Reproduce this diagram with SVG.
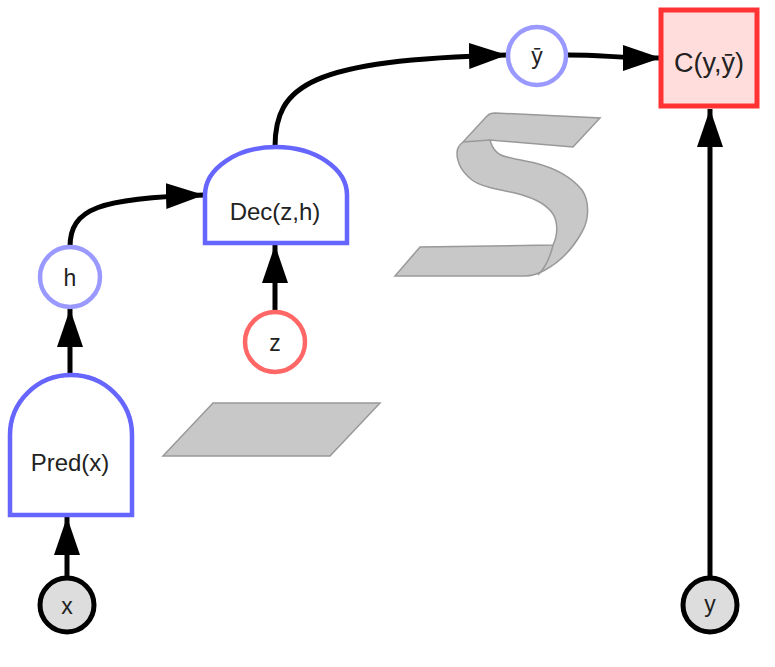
<svg xmlns="http://www.w3.org/2000/svg" width="775" height="667" viewBox="0 0 775 667">
<style>
  .lbl { font-family: "Liberation Sans", Arial, sans-serif; fill: #222; text-anchor: middle; }
  .gate { fill: #ffffff; stroke: #6666ff; stroke-width: 4.5; }
  .lat { fill: #ffffff; stroke: #9999ff; stroke-width: 4.5; }
  .obs { fill: #dddddd; stroke: #000000; stroke-width: 5; }
  .edge { fill: none; stroke: #000000; stroke-width: 5; marker-end: url(#ah); }
  .deco { fill: #c8c8c8; stroke: #999999; stroke-width: 1.5; }
  .decoline { fill: none; stroke: #999999; stroke-width: 1.5; }
</style>
<defs>
  <marker id="ah" markerUnits="userSpaceOnUse" markerWidth="40" markerHeight="28" refX="38" refY="13" orient="auto" viewBox="0 0 40 28">
    <path d="M0,0 L38,13 L0,26 z" fill="#000000"/>
  </marker>
</defs>
<rect width="775" height="667" fill="#ffffff"/>

<g id="decor">
  <polygon class="deco" points="163,456 213,403 380,403 330,456"/>
  <path class="deco" d="M395,276 L420,247 L553,245 C558,235 558,222 553,214 C545,202 530,197 515,193 C495,189 480,186 472,180 C462,172 457,162 457,153 C457,148 459,145 463,142 L487,116 C489,114 491,113 495,113 L600,118 L573,147 L490,140 C492,148 497,155 507,157 C518,160 527,161 535,163 C555,168 572,178 582,190 C590,202 589,220 582,232 C572,250 560,262 545,270 C538,274 533,276 525,276 Z"/>
  <path class="decoline" d="M463,142 L490,140"/>
  <path class="decoline" d="M553,245 C550,258 545,268 538,275"/>
</g>

<g id="connectors">
  <path class="edge" d="M67,577 L67,517"/>
  <path class="edge" d="M70,375 L70,309"/>
  <path class="edge" d="M70,247 C70,208 100,198 204,195"/>
  <path class="edge" d="M275,312 L275,245"/>
  <path class="edge" d="M275,147 C275,85 310,60 507,55"/>
  <path class="edge" d="M568,55 C605,55 615,58 661,58"/>
  <path class="edge" d="M710,577 L710,109"/>
</g>

<g id="node-x">
  <circle class="obs" cx="67" cy="605" r="27"/>
  <text class="lbl" x="67" y="614" font-size="23">x</text>
</g>

<g id="node-pred">
  <path class="gate" d="M10,515 L10,435 A61,60 0 0 1 132,435 L132,515 Z"/>
  <text class="lbl" x="70" y="471" font-size="24">Pred(x)</text>
</g>

<g id="node-h">
  <circle class="lat" cx="70" cy="277" r="30"/>
  <text class="lbl" x="70" y="286" font-size="23">h</text>
</g>

<g id="node-dec">
  <path class="gate" d="M205,243 L205,195 A71,48 0 0 1 347,195 L347,243 Z"/>
  <text class="lbl" x="275" y="220" font-size="24">Dec(z,h)</text>
</g>

<g id="node-z">
  <circle cx="275" cy="342" r="30" fill="#ffffff" stroke="#ff6666" stroke-width="4.5"/>
  <text class="lbl" x="275" y="351" font-size="23">z</text>
</g>

<g id="node-ybar">
  <circle class="lat" cx="537" cy="56" r="29"/>
  <text class="lbl" x="537" y="64" font-size="23">ȳ</text>
</g>

<g id="node-cost">
  <rect x="661" y="10" width="96" height="96" fill="#ffdddd" stroke="#ff3333" stroke-width="5"/>
  <text class="lbl" x="709" y="72" font-size="27">C(y,ȳ)</text>
</g>

<g id="node-y">
  <circle class="obs" cx="710" cy="605" r="27"/>
  <text class="lbl" x="710" y="612" font-size="23">y</text>
</g>
</svg>
